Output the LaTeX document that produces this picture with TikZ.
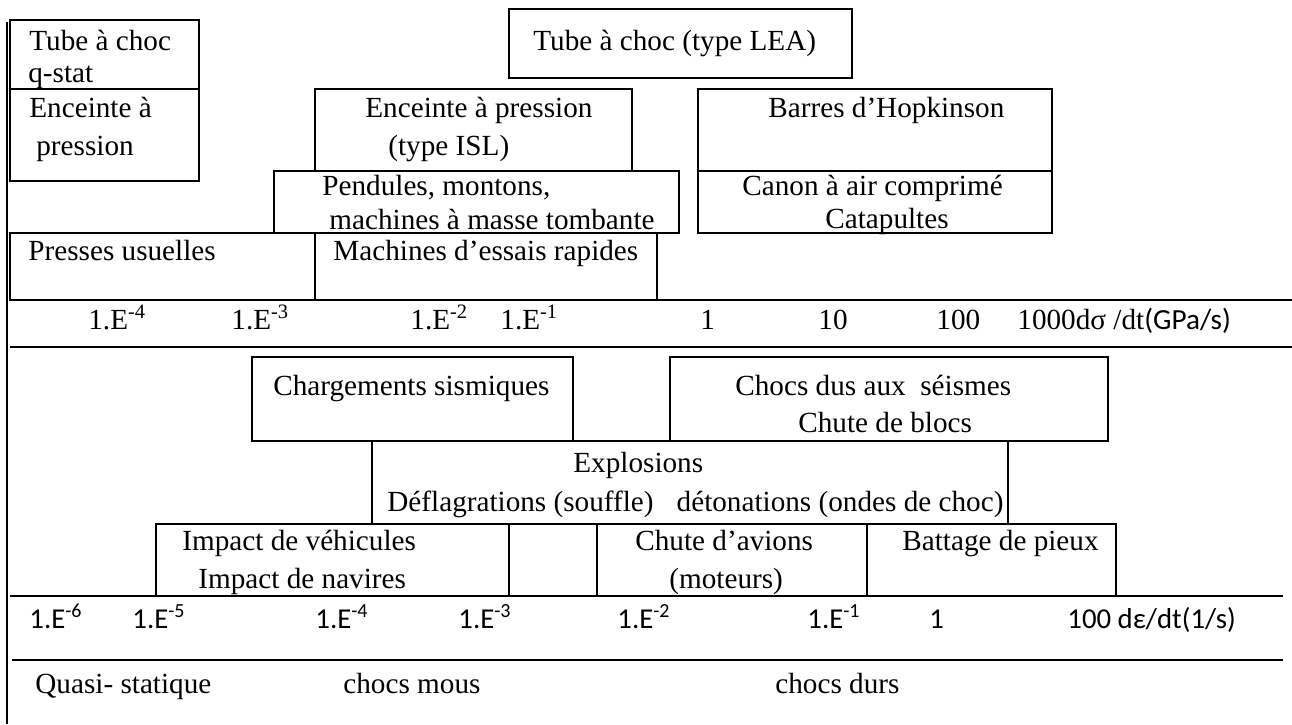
\documentclass[tikz,border=0pt]{standalone}
\usepackage{fontspec}
\setmainfont{Liberation Serif}
\newfontfamily\carlito{Carlito}
\usetikzlibrary{positioning}

\begin{document}
\begin{tikzpicture}[
    x=0.5pt, y=-0.5pt,
    font=\fontsize{14.6}{17}\selectfont,
    region/.style={draw=black, line width=1pt},
    rule/.style={line width=1pt},
    lab/.style={anchor=base west, inner sep=0pt},
    lbs/.style={lab, font=\carlito\fontsize{14.4}{17}\selectfont}
]
\useasboundingbox (0,0) rectangle (1292,724);

% ---- left rule and axis rules ----
\draw[rule] (7,22) -- (7,724);
\draw[rule] (10,300) -- (1292,300);
\draw[rule] (10,347) -- (1292,347);
\draw[rule] (10,596) -- (1283,596);
\draw[rule] (12,660) -- (1283,660);

% ---- test devices (stress rate) ----
\draw[region] (10,20)   rectangle (199,89);   % Tube a choc q-stat
\draw[region] (10,89)   rectangle (199,181);  % Enceinte a pression
\draw[region] (509,9)   rectangle (852,78);   % Tube a choc LEA
\draw[region] (315,89)  rectangle (632,171);  % Enceinte ISL
\draw[region] (274,171) rectangle (679,233);  % Pendules
\draw[region] (10,233)  rectangle (315,300);  % Presses
\draw[region] (315,233) rectangle (657,300);  % Machines rapides
\draw[region] (698,89)  rectangle (1052,171); % Hopkinson
\draw[region] (698,171) rectangle (1052,233); % Canon

\node[lab] (tubeq)  at (29,50)   {Tube à choc};
\node[lab] (qstat)  at (28,82)   {q-stat};
\node[lab] (encA)   at (29,117)  {Enceinte à};
\node[lab] (encB)   at (36,155)  {pression};
\node[lab] (tubel)  at (533,50)  {Tube à choc (type LEA)};
\node[lab] (islA)   at (365,117) {Enceinte à pression};
\node[lab] (islB)   at (388,155) {(type ISL)};
\node[lab] (pendA)  at (322,195) {Pendules, montons,};
\node[lab] (pendB)  at (329,229) {machines à masse tombante};
\node[lab] (press)  at (28,260)  {Presses usuelles};
\node[lab] (rapid)  at (333,260) {Machines d’essais rapides};
\node[lab] (hopk)   at (768,117) {Barres d’Hopkinson};
\node[lab] (canA)   at (742,195) {Canon à air comprimé};
\node[lab] (canB)   at (825,228) {Catapultes};

% ---- stress rate axis ----
\node[lab] (sa) at (88,329)   {1.E\textsuperscript{-4}};
\node[lab] (sb) at (231,329)  {1.E\textsuperscript{-3}};
\node[lab] (sc) at (410,329)  {1.E\textsuperscript{-2}};
\node[lab] (sd) at (500,329)  {1.E\textsuperscript{-1}};
\node[lab] (se) at (700,329)  {1};
\node[lab] (sf) at (818,329)  {10};
\node[lab] (sg) at (936,329)  {100};
\node[lab] (sh) at (1017,329) {1000dσ /dt{\carlito(GPa/s)}};

% ---- loadings (strain rate) ----
\draw[region] (252,357) rectangle (573,441);  % sismiques
\draw[region] (670,357) rectangle (1108,441); % chocs seismes
\draw[region] (372,441) rectangle (1008,524); % explosions
\draw[region] (156,524) rectangle (509,596);  % impacts
\draw[region] (509,524) rectangle (597,596);
\draw[region] (597,524) rectangle (867,596);  % avions
\draw[region] (867,524) rectangle (1116,596); % pieux

\node[lab] (sism)  at (273,395) {Chargements sismiques};
\node[lab] (seiA)  at (735,395) {Chocs dus aux\ \ séismes};
\node[lab] (seiB)  at (798,432) {Chute de blocs};
\node[lab] (explA) at (573,472) {Explosions};
\node[lab] (explB) at (387,511) {Déflagrations (souffle)\hspace{0.79em}détonations (ondes de choc)};
\node[lab] (impA)  at (182,550) {Impact de véhicules};
\node[lab] (impB)  at (198,588) {Impact de navires};
\node[lab] (avA)   at (635,550) {Chute d’avions};
\node[lab] (avB)   at (669,588) {(moteurs)};
\node[lab] (pieu)  at (902,550) {Battage de pieux};

% ---- strain rate axis ----
\node[lbs] (ea) at (29,628)   {1.E\textsuperscript{-6}};
\node[lbs] (eb) at (132,628)  {1.E\textsuperscript{-5}};
\node[lbs] (ec) at (315,628)  {1.E\textsuperscript{-4}};
\node[lbs] (ed) at (458,628)  {1.E\textsuperscript{-3}};
\node[lbs] (ee) at (617,628)  {1.E\textsuperscript{-2}};
\node[lbs] (ef) at (807,628)  {1.E\textsuperscript{-1}};
\node[lbs] (eg) at (929,628)  {1};
\node[lbs] (eh) at (1067,628) {100 dε/dt(1/s)};

% ---- regimes ----
\node[lab] (quasi) at (35,693)  {Quasi- statique};
\node[lab] (mous)  at (343,693) {chocs mous};
\node[lab] (durs)  at (775,693) {chocs durs};

\end{tikzpicture}
\end{document}
